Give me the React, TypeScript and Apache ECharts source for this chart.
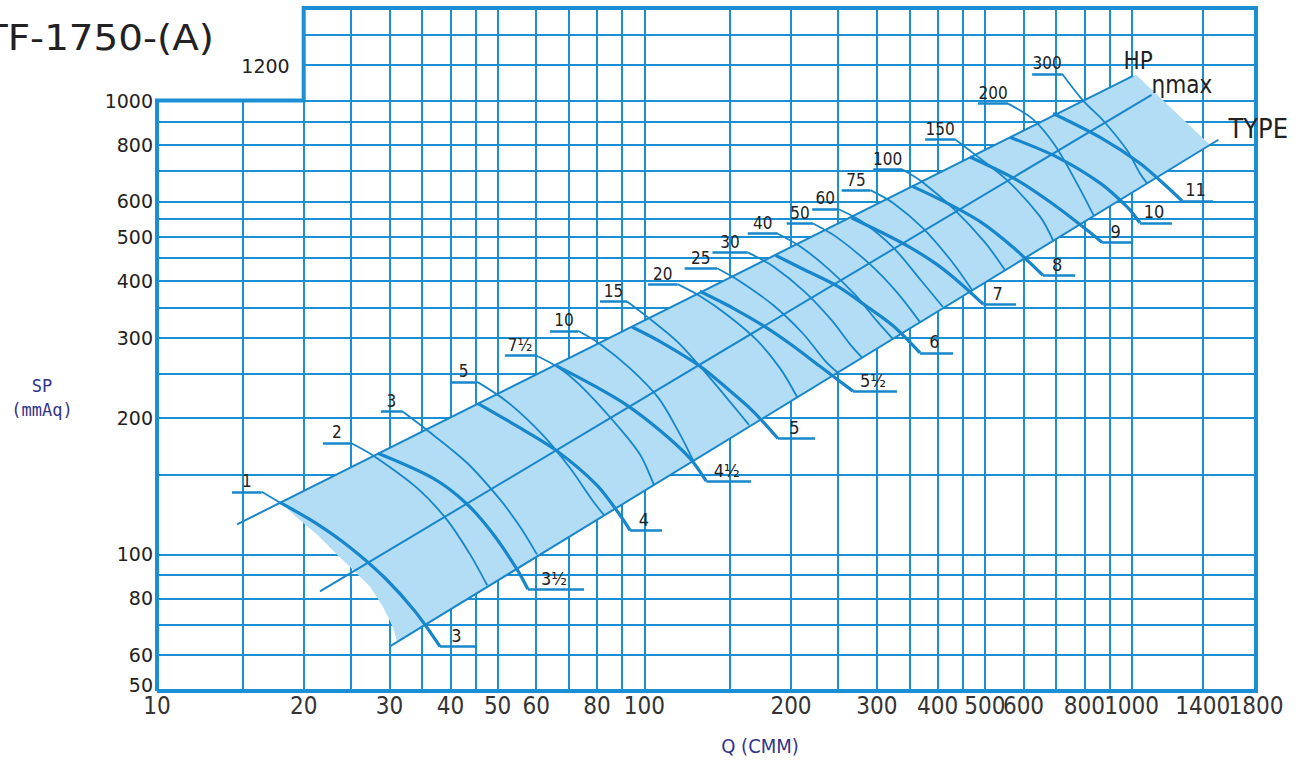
import React, { useEffect, useRef } from "react";
import * as echarts from "echarts";

// ---------- axis ticks / grid ----------
const X_TICKS = [10, 20, 30, 40, 50, 60, 80, 100, 200, 300, 400, 500, 600, 800, 1000, 1400, 1800];
const Y_TICKS = [50, 60, 80, 100, 200, 300, 400, 500, 600, 800, 1000];
const X_GRID = [15, 20, 25, 30, 35, 40, 45, 50, 60, 70, 80, 90, 100, 150, 200, 250, 300, 350, 400, 450, 500, 600, 700, 800, 900, 1000, 1400];
const Y_GRID = [60, 70, 80, 90, 100, 150, 200, 250, 300, 350, 400, 450, 500, 550, 600, 700, 800, 900, 1000, 1200, 1400];
const FRAME = [[10, 50], [10, 1000], [20, 1000], [20, 1600], [1800, 1600], [1800, 50], [10, 50]];

// ---------- straight guide lines ----------
const HP_EDGE = [[14.6, 116.5], [1007, 1134]];
const ETA_MAX_LINE = [[21.6, 82.9], [1099, 1030]];
const TYPE_EDGE = [[30.0, 62.6], [1507, 820]];

// ---------- shaded operating band ----------
const BAND = [
  [17.9, 130], [1021, 1140], [1448, 799], [31.1, 64.1], [30.5, 69.2], [29.1, 76.6],
  [27.4, 84.7], [25.3, 92.3], [23.4, 100], [21.3, 110.6], [19.4, 120.5],
];

// ---------- HP curves (thin) ----------
const HP_LABELS = ["1", "2", "3", "5", "7½", "10", "15", "20", "25", "30", "40", "50", "60", "75", "100", "150", "200", "300"];
const HP_UNDERLINE_FROM = [14.25, 21.9, 28.8, 39.9, 51.8, 64.0, 81.1, 101.8, 121, 138, 163, 196, 221, 254, 295, 377, 484, 625];
const HP_CURVES = [
  [[16.4, 137.4], [17.9, 130]],
  [[25.0, 176], [27.8, 165], [34.2, 140], [39.4, 119], [43.9, 100], [47.6, 85.5]],
  [[31.8, 207], [35.8, 188], [43.3, 159], [50.6, 132], [55.6, 115], [60.2, 100]],
  [[45.4, 240], [52.3, 217], [62.0, 183], [70.4, 155], [78.5, 131], [82.7, 122]],
  [[59.7, 275], [67.1, 257], [73.8, 236], [86.3, 197], [98.0, 166], [104.7, 142]],
  [[73.1, 311], [81.1, 291], [93.5, 257], [107, 221], [118, 185], [126, 161]],
  [[92.2, 361], [101, 335], [117, 294], [135, 248], [152, 213], [164, 193]],
  [[117, 394], [130, 371], [148, 337], [170, 297], [190, 257], [206, 222]],
  [[141, 427], [157, 400], [184, 354], [212, 306], [235, 267], [250, 251]],
  [[163, 463], [184, 431], [214, 378], [243, 327], [264, 291], [280, 271]],
  [[188, 509], [209, 477], [238, 427], [271, 373], [300, 327], [324, 298]],
  [[222, 536], [249, 499], [291, 435], [330, 378], [368, 325]],
  [[250, 577], [280, 541], [324, 475], [368, 404], [410, 351]],
  [[291, 635], [324, 595], [372, 525], [424, 447], [471, 382]],
  [[338, 706], [372, 662], [434, 574], [500, 487], [550, 423]],
  [[434, 822], [473, 766], [555, 668], [649, 555], [690, 492]],
  [[558, 985], [628, 909], [696, 797], [766, 668], [837, 557]],
  [[720, 1146], [795, 1000], [874, 904], [979, 777], [1040, 692], [1075, 658]],
];

// ---------- TYPE curves (thick) ----------
const TYPE_LABELS = ["3", "3½", "4", "4½", "5", "5½", "6", "7", "8", "9", "10", "11"];
const TYPE_UNDERLINE_TO = [45.3, 75.2, 108.7, 165.6, 224, 330, 430, 579, 766, 1007, 1210, 1469];
const TYPE_CURVES = [
  [[17.9, 130], [21.1, 117.5], [24.9, 103.6], [29.4, 88.6], [33.8, 75.0], [38.1, 62.6]],
  [[28.4, 167], [36.9, 147], [43.3, 129], [48.9, 111], [54.8, 92.7], [57.7, 83.8]],
  [[45.6, 215], [55.6, 190], [66.2, 169], [80.0, 142], [89.2, 122], [93.5, 113]],
  [[66.2, 260], [78.5, 236], [92.2, 213], [108, 187], [124, 163], [134, 145]],
  [[94.4, 317], [108, 294], [130, 260], [148, 232], [167, 207], [188, 180]],
  [[130, 380], [152, 349], [179, 315], [202, 288], [229, 260], [268, 229]],
  [[186, 456], [212, 425], [249, 390], [286, 352], [324, 319], [368, 278]],
  [[266, 552], [305, 514], [351, 475], [399, 435], [445, 396], [496, 356]],
  [[354, 648], [414, 598], [489, 541], [571, 475], [658, 412]],
  [[466, 751], [582, 668], [703, 583], [822, 512], [870, 487]],
  [[563, 830], [703, 751], [862, 658], [979, 583], [1040, 538]],
  [[690, 937], [862, 830], [1040, 728], [1182, 646], [1269, 601]],
];

const NARROW = '"Liberation Sans Narrow", "Arial Narrow", "DejaVu Sans Condensed", "Roboto Condensed", "Liberation Sans", sans-serif';
const GRID_BLUE = "#1b8fd4";
const CURVE_BLUE = "#1786ca";
const BAND_FILL = "#b3dcf5";
const TEXT = "#222222";

type TextItem = { text: string; at: number[]; dx: number; dy: number; font: string; align: string; vAlign: string; fill?: string };

function textSeries(items: TextItem[]) {
  return {
    type: "custom",
    silent: true,
    z: 10,
    clip: false,
    data: items.map((it) => it.at),
    renderItem: (params: any, api: any) => {
      const it = items[params.dataIndex];
      const p = api.coord([api.value(0), api.value(1)]);
      return {
        type: "text",
        x: p[0] + it.dx,
        y: p[1] + it.dy,
        style: {
          text: it.text,
          font: it.font,
          fill: it.fill || TEXT,
          textAlign: it.align,
          textVerticalAlign: it.vAlign,
        },
      };
    },
  };
}

export default function App() {
  const ref = useRef<HTMLDivElement>(null);

  useEffect(() => {
    const el = ref.current;
    if (!el) return;
    const chart = echarts.init(el, null, { renderer: "svg" });

    const gridLines = [
      ...X_GRID.map((x) => ({ coords: [[x, 50], [x, x < 20 ? 1000 : 1600]] })),
      ...Y_GRID.map((y) => ({ coords: [[y > 1000 ? 20 : 10, y], [1800, y]] })),
    ];

    const underlines: any[] = [];
    HP_CURVES.forEach((c, i) => {
      underlines.push({ coords: [[HP_UNDERLINE_FROM[i], c[0][1]], c[0]] });
    });
    TYPE_CURVES.forEach((c, i) => {
      const last = c[c.length - 1];
      underlines.push({ coords: [last, [TYPE_UNDERLINE_TO[i], last[1]]] });
    });

    const texts: TextItem[] = [];
    X_TICKS.forEach((v) =>
      texts.push({ text: String(v), at: [v, 50], dx: 0, dy: 3, font: `24px ${NARROW}`, align: "center", vAlign: "top", fill: "#333" })
    );
    HP_CURVES.forEach((c, i) =>
      texts.push({
        text: HP_LABELS[i],
        at: [Math.sqrt(HP_UNDERLINE_FROM[i] * c[0][0]), c[0][1]],
        dx: 0,
        dy: -2,
        font: `17px ${NARROW}`,
        align: "center",
        vAlign: "bottom",
      })
    );
    TYPE_CURVES.forEach((c, i) => {
      const last = c[c.length - 1];
      texts.push({
        text: TYPE_LABELS[i],
        at: [Math.sqrt(last[0] * TYPE_UNDERLINE_TO[i]), last[1]],
        dx: -2,
        dy: -2,
        font: `18px ${NARROW}`,
        align: "center",
        vAlign: "bottom",
      });
    });
    texts.push({ text: "1200", at: [20, 1200], dx: -14, dy: 1, font: '19px "DejaVu Sans", sans-serif', align: "right", vAlign: "middle" });
    texts.push({ text: "HP", at: HP_EDGE[1], dx: 5, dy: -3, font: `24px ${NARROW}`, align: "center", vAlign: "bottom" });
    texts.push({ text: "ηmax", at: ETA_MAX_LINE[1], dx: 0, dy: -10, font: `24px ${NARROW}`, align: "left", vAlign: "middle" });
    texts.push({ text: "TYPE", at: TYPE_EDGE[1], dx: 10, dy: -11, font: `27px ${NARROW}`, align: "left", vAlign: "middle" });

    const series: any[] = [];
    series.push({
      type: "lines",
      coordinateSystem: "cartesian2d",
      data: gridLines,
      lineStyle: { color: GRID_BLUE, width: 2, opacity: 1 },
      silent: true,
      z: 1,
      clip: false,
    });
    series.push({
      type: "custom",
      silent: true,
      z: 2,
      clip: false,
      data: [[BAND[0][0], BAND[0][1]]],
      renderItem: (_p: any, api: any) => ({
        type: "polygon",
        shape: { points: BAND.map((pt) => api.coord(pt)) },
        style: { fill: BAND_FILL },
      }),
    });
    [HP_EDGE, ETA_MAX_LINE, TYPE_EDGE].forEach((ln) => {
      series.push({
        type: "line",
        data: ln,
        symbol: "none",
        lineStyle: { color: CURVE_BLUE, width: 2 },
        z: 4,
        silent: true,
        clip: false,
      });
    });
    HP_CURVES.forEach((c) => {
      series.push({
        type: "line",
        data: c,
        smooth: 0.3,
        symbol: "none",
        lineStyle: { color: CURVE_BLUE, width: 1.8 },
        z: 5,
        silent: true,
        clip: false,
      });
    });
    TYPE_CURVES.forEach((c) => {
      series.push({
        type: "line",
        data: c,
        smooth: 0.3,
        symbol: "none",
        lineStyle: { color: CURVE_BLUE, width: 3.2 },
        z: 6,
        silent: true,
        clip: false,
      });
    });
    series.push({
      type: "lines",
      coordinateSystem: "cartesian2d",
      data: underlines,
      lineStyle: { color: CURVE_BLUE, width: 2.5, opacity: 1 },
      silent: true,
      z: 6,
      clip: false,
    });
    series.push({
      type: "lines",
      coordinateSystem: "cartesian2d",
      polyline: true,
      data: [{ coords: FRAME }],
      lineStyle: { color: GRID_BLUE, width: 4, opacity: 1, join: "miter" },
      silent: true,
      z: 8,
      clip: false,
    });
    series.push(textSeries(texts));

    chart.setOption({
      animation: false,
      backgroundColor: "#ffffff",
      grid: { left: 157, right: 48, top: 8, bottom: 72, containLabel: false },
      xAxis: {
        type: "log",
        logBase: 10,
        min: 10,
        max: 1800,
        axisLine: { show: false },
        axisTick: { show: false },
        splitLine: { show: false },
        minorSplitLine: { show: false },
        axisLabel: { show: false },
      },
      yAxis: {
        type: "log",
        logBase: 10,
        min: 50,
        max: 1600,
        axisLine: { show: false },
        axisTick: { show: false },
        splitLine: { show: false },
        minorSplitLine: { show: false },
        axisLabel: {
          customValues: Y_TICKS,
          showMinLabel: true,
          formatter: (v: number) => (Math.round(v) === 50 ? "{lift|50}" : String(Math.round(v))),
          rich: { lift: { padding: [0, 0, 12, 0], fontFamily: "DejaVu Sans", fontSize: 19, color: TEXT } },
          fontFamily: "DejaVu Sans",
          fontSize: 19,
          color: TEXT,
          margin: 4,
        },
      },
      graphic: [
        {
          type: "text",
          x: 214,
          y: 38,
          scaleX: 1.08,
          style: {
            text: "TF-1750-(A)",
            font: '36px "DejaVu Sans", sans-serif',
            fill: "#222",
            textAlign: "right",
            textVerticalAlign: "middle",
          },
        },
        {
          type: "text",
          x: 42,
          y: 386,
          style: {
            text: "SP",
            font: '17px "DejaVu Sans Mono", monospace',
            fill: "#33338a",
            textAlign: "center",
            textVerticalAlign: "middle",
          },
        },
        {
          type: "text",
          x: 42,
          y: 410,
          style: {
            text: "(mmAq)",
            font: '17px "DejaVu Sans Mono", monospace',
            fill: "#33338a",
            textAlign: "center",
            textVerticalAlign: "middle",
          },
        },
        {
          type: "text",
          x: 760,
          y: 746,
          style: {
            text: "Q (CMM)",
            font: `20px ${NARROW}`,
            fill: "#33338a",
            textAlign: "center",
            textVerticalAlign: "middle",
          },
        },
      ],
      series,
    });

    return () => chart.dispose();
  }, []);

  return (
    <div
      ref={ref}
      style={{ position: "fixed", left: 0, top: 0, width: 1304, height: 763, background: "#fff" }}
    />
  );
}
